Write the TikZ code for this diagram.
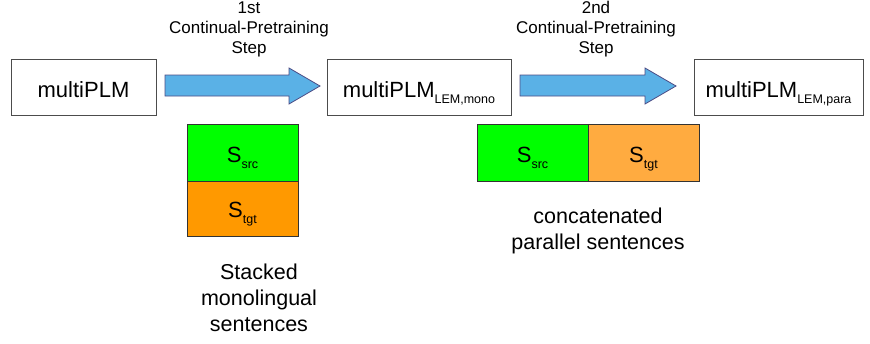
\documentclass[tikz,border=0pt]{standalone}
\usepackage{fontspec}
\setmainfont{Liberation Sans}
% small subscript, set well below the baseline
\newcommand{\lowsub}[1]{\raisebox{-6.5pt}{\fontsize{12.5}{14}\selectfont #1}}
\begin{document}
\begin{tikzpicture}[x=1pt,y=-1pt,
  model/.style={draw=black!70,line width=1pt,fill=white},
  seg/.style={draw=black!80,line width=1pt},
  big/.style={font=\fontsize{22}{26}\selectfont,anchor=base,inner sep=0pt},
  fatarrow/.style={draw=black!45!blue!40!gray,line width=0.8pt,fill=arrowblue},
  caption/.style={align=center,font=\fontsize{17}{20}\selectfont,inner sep=0pt},
  note/.style={align=center,font=\fontsize{21.5}{26}\selectfont,inner sep=0pt}]
\definecolor{arrowblue}{HTML}{5AB1E6}
\definecolor{srcgreen}{HTML}{00FF00}
\definecolor{tgtorange}{HTML}{FF9900}
\definecolor{tgtlight}{HTML}{FFAB40}
\useasboundingbox (0,0) rectangle (870,343);

% model boxes
\draw[model] (11,59) rectangle (156,115);
\node[big] (m0) at (83.5,97) {multiPLM};
\draw[model] (327,59) rectangle (511,115);
\node[big] (m1) at (419,97) {multiPLM\lowsub{LEM,mono}};
\draw[model] (694,59) rectangle (863,115);
\node[big] (m2) at (778.5,97) {multiPLM\lowsub{LEM,para}};

% block arrows between the models
\draw[fatarrow] (165,75) -- (289,75) -- (289,68) -- (320,86) -- (289,104) -- (289,96) -- (165,96) -- cycle;
\draw[fatarrow] (520,75) -- (645,75) -- (645,68) -- (676,86) -- (645,104) -- (645,96) -- (520,96) -- cycle;
\node[caption] (c1) at (249,29) {1st\\Continual-Pretraining\\Step};
\node[caption] (c2) at (596,29) {2nd\\Continual-Pretraining\\Step};

% stacked monolingual sentences
\draw[seg,fill=srcgreen] (187,124) rectangle (298,181);
\draw[seg,fill=tgtorange] (187,181) rectangle (298,236);
\node[big] (s1) at (242.5,162) {S\lowsub{src}};
\node[big] (t1) at (242.5,217) {S\lowsub{tgt}};
\node[note] (n1) at (259,298) {Stacked\\monolingual\\sentences};

% concatenated parallel sentences
\draw[seg,fill=srcgreen] (477,124) rectangle (588,181);
\draw[seg,fill=tgtlight] (588,124) rectangle (699,181);
\node[big] (s2) at (532.5,162) {S\lowsub{src}};
\node[big] (t2) at (643.5,162) {S\lowsub{tgt}};
\node[note] (n2) at (598,231) {concatenated\\parallel sentences};
\end{tikzpicture}
\end{document}
